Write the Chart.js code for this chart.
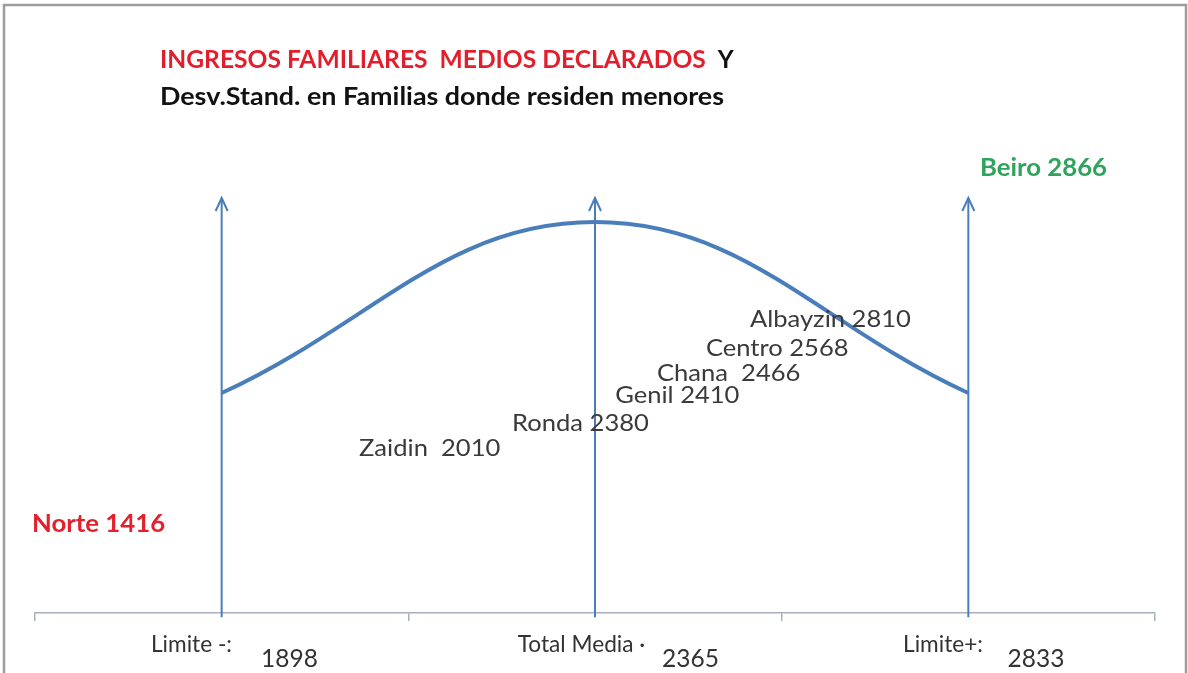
<!DOCTYPE html>
<html><head><meta charset="utf-8">
<script src="https://cdn.jsdelivr.net/npm/chart.js@4/dist/chart.umd.min.js"></script>
<style>html,body{margin:0;padding:0;background:#fff}canvas{display:block}</style>
</head><body>
<canvas id="c" width="1188" height="673"></canvas>
<script>
// ---- data ----
const categories = ['Limite -:', 'Total Media ·', 'Limite+:'];
const tickValues = ['1898', '2365', '2833'];
const curveValues = [53, 94.2, 53];
const arrowTop = [100, 100, 100];
const barrios = ['Albayzin', 'Centro', 'Chana', 'Genil', 'Ronda', 'Zaidin'];
const barrioValues = [2810, 2568, 2466, 2410, 2380, 2010];
const extremos = ['Norte', 'Beiro'];
const extremoValues = [1416, 2866];
const titleRed = 'INGRESOS FAMILIARES  MEDIOS DECLARADOS';
const titleY = 'Y';
const subtitle = 'Desv.Stand. en Familias donde residen menores';

// ---- layout (positions in scale units: x = category index, y = value) ----
const barrioSep = [' ', ' ', '  ', ' ', ' ', '  '];
const barrioPos = [[1.415, 70.7], [1.297, 63.9], [1.166, 57.7], [1.054, 52.4], [0.778, 45.7], [0.368, 39.7]];
const extremoPos = [[-0.508, 21.4], [2.031, 107.2]];
const extremoColors = ['#e3202c', '#2fa35c'];
const catLabelX = [-0.0808, 0.9638, 1.9322];
const numLabelX = [0.1817, 1.2558, 2.1813];
const catLabelY = -7.7;
const numLabelY = -11.1;
const arrowBase = -1;

const BLUE = '#4a7ebb';

function txt(ctx, s, x, y, font, color, align, sx, sy) {
  ctx.save();
  ctx.font = font; ctx.fillStyle = color; ctx.textAlign = align; ctx.textBaseline = 'middle';
  ctx.translate(x, y); ctx.scale(sx || 1, sy || 1);
  ctx.fillText(s, 0, 0);
  ctx.restore();
}

const overlay = {
  id: 'overlay',
  beforeDraw(chart) {
    const ctx = chart.ctx;
    ctx.save();
    ctx.fillStyle = '#fff'; ctx.fillRect(0, 0, chart.width, chart.height);
    ctx.strokeStyle = '#9c9c9c'; ctx.lineWidth = 2.5;
    ctx.strokeRect(4, 5, 1182, 720);
    ctx.restore();
  },
  afterDatasetsDraw(chart) {
    const ctx = chart.ctx, xs = chart.scales.x, ys = chart.scales.y;
    ctx.save();
    ctx.strokeStyle = BLUE; ctx.lineWidth = 2;
    arrowTop.forEach((v, i) => {
      const x = xs.getPixelForValue(i);
      const y0 = ys.getPixelForValue(arrowBase), y1 = ys.getPixelForValue(v);
      ctx.beginPath(); ctx.moveTo(x, y0); ctx.lineTo(x, y1); ctx.stroke();
      ctx.beginPath(); ctx.moveTo(x - 6, y1 + 13); ctx.lineTo(x, y1); ctx.lineTo(x + 6, y1 + 13); ctx.stroke();
    });
    ctx.restore();
  },
  afterDraw(chart) {
    const ctx = chart.ctx, xs = chart.scales.x, ys = chart.scales.y;
    // title
    ctx.save();
    ctx.font = 'bold 24.6px Lato'; ctx.textBaseline = 'middle'; ctx.textAlign = 'left';
    ctx.fillStyle = '#e31e2c'; ctx.fillText(titleRed, 160, 60);
    const w = ctx.measureText(titleRed + '  ').width;
    ctx.fillStyle = '#111'; ctx.fillText(titleY, 160 + w, 60);
    ctx.restore();
    txt(ctx, subtitle, 160, 97, 'bold 25px Lato', '#111', 'left', 1.075, 1);
    // barrios
    barrios.forEach((b, i) => {
      txt(ctx, b + barrioSep[i] + barrioValues[i], xs.getPixelForValue(barrioPos[i][0]), ys.getPixelForValue(barrioPos[i][1]), '24px Lato', '#3a3a3a', 'left', 1.065, 1);
    });
    extremos.forEach((b, i) => {
      txt(ctx, b + ' ' + extremoValues[i], xs.getPixelForValue(extremoPos[i][0]), ys.getPixelForValue(extremoPos[i][1]), 'bold 25px Lato', extremoColors[i], 'left', 1.03, 1);
    });
    // axis labels
    categories.forEach((c, i) => {
      txt(ctx, c, xs.getPixelForValue(catLabelX[i]), ys.getPixelForValue(catLabelY), '22px Lato', '#333', 'center', 1.03, 1.05);
      txt(ctx, tickValues[i], xs.getPixelForValue(numLabelX[i]), ys.getPixelForValue(numLabelY), '24px Lato', '#333', 'center', 1.02, 1.08);
    });
  }
};

new Chart(document.getElementById('c'), {
  type: 'line',
  data: {
    labels: categories,
    datasets: [{
      data: curveValues,
      borderColor: BLUE, borderWidth: 4, pointRadius: 0, tension: 0.4, fill: false
    }]
  },
  options: {
    responsive: false, devicePixelRatio: 1, animation: false,
    layout: { padding: { top: 198, left: 35, right: 33, bottom: 52 } },
    plugins: { legend: { display: false }, tooltip: { enabled: false }, title: { display: false } },
    scales: {
      x: {
        type: 'category', offset: true,
        grid: { offset: true, drawOnChartArea: false, drawTicks: true, tickLength: 8, color: '#a8afba', lineWidth: 1.5 },
        border: { display: true, color: '#a8afba', width: 1.5 },
        ticks: { display: false }
      },
      y: { display: false, min: 0, max: 100 }
    }
  },
  plugins: [overlay]
});
</script></body></html>
